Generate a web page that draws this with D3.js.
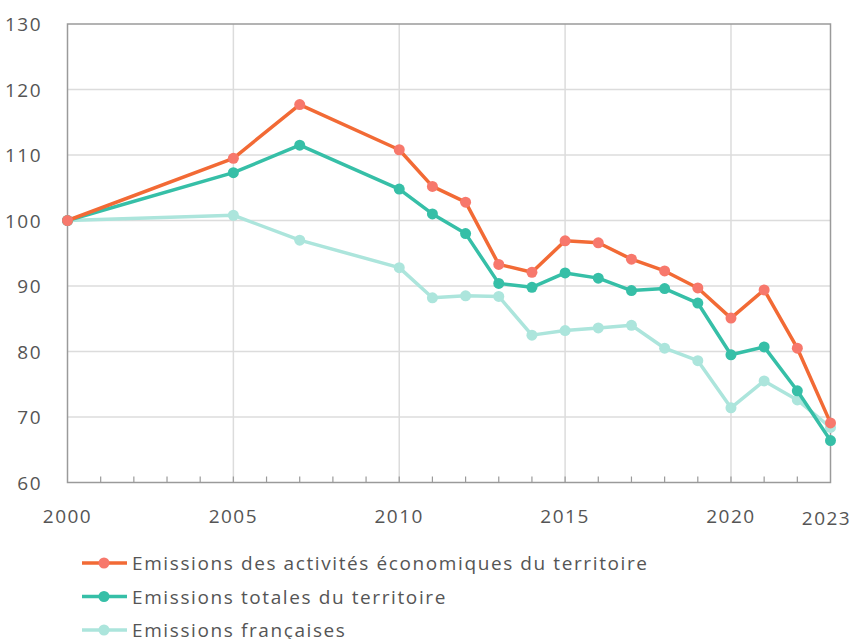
<!DOCTYPE html>
<html>
<head>
<meta charset="utf-8">
<script src="https://cdn.jsdelivr.net/npm/d3@7"></script>
<style>
  body { margin: 0; background: #fff; }
  svg { display: block; font-family: "Open Sans", sans-serif; }
</style>
</head>
<body>
<svg id="chart" width="854" height="639"></svg>
<script>
var years = [2000, 2005, 2007, 2010, 2011, 2012, 2013, 2014, 2015, 2016, 2017, 2018, 2019, 2020, 2021, 2022, 2023];

var activites = [100, 109.5, 117.7, 110.8, 105.2, 102.8, 93.3, 92.1, 96.9, 96.6, 94.1, 92.3, 89.7, 85.1, 89.4, 80.5, 69.1];
var totales   = [100, 107.3, 111.5, 104.8, 101.0, 98.0, 90.4, 89.8, 92.0, 91.2, 89.3, 89.6, 87.4, 79.5, 80.7, 74.0, 66.4];
var francaises = [100, 100.8, 97.0, 92.8, 88.2, 88.5, 88.4, 82.5, 83.2, 83.6, 84.0, 80.5, 78.6, 71.4, 75.5, 72.6, 68.4];

var yTicks = [60, 70, 80, 90, 100, 110, 120, 130];
var xLabels = [2000, 2005, 2010, 2015, 2020, 2023];
var xGrid = [2005, 2010, 2015, 2020];

var series = [
  { name: "Emissions des activités économiques du territoire", values: activites, line: "#f26a35", dot: "#f7786c" },
  { name: "Emissions totales du territoire", values: totales, line: "#36bfa7", dot: "#36bfa7" },
  { name: "Emissions françaises", values: francaises, line: "#ace5dc", dot: "#ace5dc" }
];

var svg = d3.select("svg");
var plotL = 67.5, plotR = 830.5, plotT = 24, plotB = 482.5;

var x = d3.scaleLinear().domain([2000, 2023]).range([plotL, plotR]);
var y = d3.scaleLinear().domain([60, 130]).range([plotB, plotT]);

// grid
svg.append("g").selectAll("line")
    .data(yTicks.filter(function(d) { return d > 60 && d < 130; }))
    .enter().append("line")
    .attr("x1", plotL).attr("x2", plotR)
    .attr("y1", function(d) { return y(d); })
    .attr("y2", function(d) { return y(d); })
    .attr("stroke", "#dcdcdc").attr("stroke-width", 1.5);

svg.append("g").selectAll("line")
    .data(xGrid)
    .enter().append("line")
    .attr("x1", function(d) { return x(d); })
    .attr("x2", function(d) { return x(d); })
    .attr("y1", plotT).attr("y2", plotB)
    .attr("stroke", "#dcdcdc").attr("stroke-width", 1.5);

// frame
svg.append("rect")
    .attr("x", plotL).attr("y", plotT)
    .attr("width", plotR - plotL).attr("height", plotB - plotT)
    .attr("fill", "none").attr("stroke", "#9a9a9a").attr("stroke-width", 1.5);

// inward year ticks
svg.append("g").selectAll("line")
    .data(d3.range(2001, 2023))
    .enter().append("line")
    .attr("x1", function(d) { return x(d); })
    .attr("x2", function(d) { return x(d); })
    .attr("y1", plotB).attr("y2", plotB - 6)
    .attr("stroke", "#9a9a9a").attr("stroke-width", 1.2);

// y labels
svg.append("g").selectAll("text")
    .data(yTicks)
    .enter().append("text")
    .attr("x", 42)
    .attr("y", function(d) { return y(d) + 7; })
    .attr("text-anchor", "end")
    .attr("font-size", 19)
    .attr("letter-spacing", 1.5)
    .attr("fill", "#555")
    .text(function(d) { return d; });

// x labels
svg.append("g").selectAll("text")
    .data(xLabels)
    .enter().append("text")
    .attr("x", function(d) { return d === 2023 ? x(d) - 4 : x(d); })
    .attr("y", function(d) { return d === 2023 ? 525 : 523; })
    .attr("text-anchor", "middle")
    .attr("font-size", 19)
    .attr("letter-spacing", 1.5)
    .attr("fill", "#555")
    .text(function(d) { return d; });

var line = d3.line()
    .x(function(d, i) { return x(years[i]); })
    .y(function(d) { return y(d); });

// draw back to front
series.slice().reverse().forEach(function(s) {
    var g = svg.append("g");
    g.append("path")
        .datum(s.values)
        .attr("d", line)
        .attr("fill", "none")
        .attr("stroke", s.line)
        .attr("stroke-width", 3.5)
        .attr("stroke-linejoin", "round");
    g.selectAll("circle")
        .data(s.values)
        .enter().append("circle")
        .attr("cx", function(d, i) { return x(years[i]); })
        .attr("cy", function(d) { return y(d); })
        .attr("r", 5.5)
        .attr("fill", s.dot);
});

// legend
var legend = svg.append("g").selectAll("g")
    .data(series)
    .enter().append("g")
    .attr("transform", function(d, i) { return "translate(0," + (563 + i * 33.5) + ")"; });

legend.append("line")
    .attr("x1", 82).attr("x2", 127)
    .attr("stroke", function(d) { return d.line; })
    .attr("stroke-width", 3.5);
legend.append("circle")
    .attr("cx", 104).attr("r", 5.5)
    .attr("fill", function(d) { return d.dot; });
legend.append("text")
    .attr("x", 132).attr("y", 7)
    .attr("font-size", 19)
    .attr("letter-spacing", 1.6)
    .attr("fill", "#555")
    .text(function(d) { return d.name; });
</script>
</body>
</html>
